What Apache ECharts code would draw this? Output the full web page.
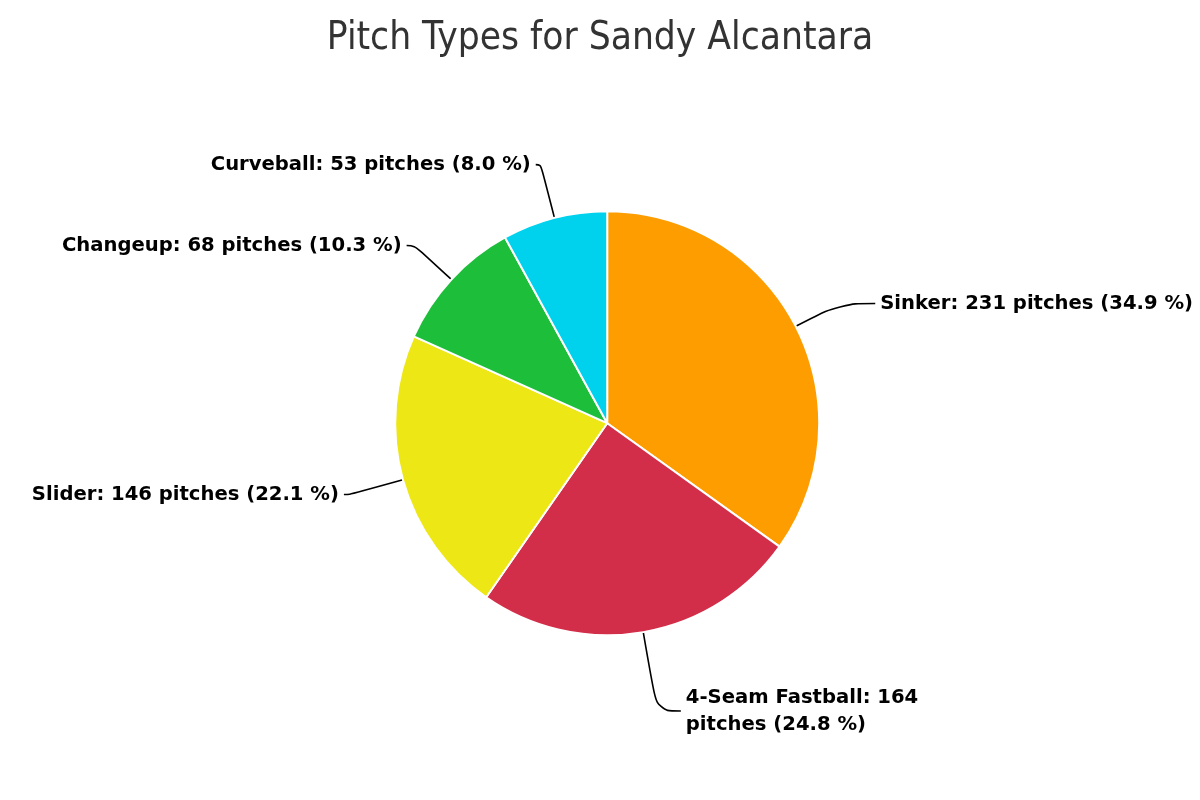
<!DOCTYPE html>
<html><head><meta charset="utf-8">
<script src="https://cdn.jsdelivr.net/npm/echarts@6/dist/echarts.min.js"></script>
<style>html,body{margin:0;padding:0;background:#fff}#c{width:1200px;height:800px}</style>
</head><body><div id="c"></div>
<script>
const titleText = 'Pitch Types for Sandy Alcantara';
const categories = ['Sinker', '4-Seam Fastball', 'Slider', 'Changeup', 'Curveball'];
const pitchCounts = [231, 164, 146, 68, 53];
const pitchPercents = ['34.9', '24.8', '22.1', '10.3', '8.0'];
const colors = ['#FE9D00', '#D22D49', '#EEE716', '#1DBE3A', '#00D1ED'];
// connector styling per slice: [radial length, horizontal length, label width]
const connectorStyle = [[50, 35, 400], [80, 24, 255], [55, 6, 400], [50, 8, 400], [55, 5, 400]];

const chart = echarts.init(document.getElementById('c'), null, {renderer: 'canvas'});
chart.setOption({
  animation: false,
  backgroundColor: '#fff',
  title: {
    text: titleText, left: 'center', top: 14,
    textStyle: {fontFamily: 'DejaVu Sans Condensed', fontSize: 38.5, fontWeight: 'normal', color: '#333'}
  },
  series: [{
    type: 'pie',
    center: ['50.6%', '52.9%'],
    radius: 212,
    startAngle: 90,
    clockwise: true,
    avoidLabelOverlap: false,
    itemStyle: {borderColor: '#fff', borderWidth: 2},
    label: {
      show: true,
      fontFamily: 'DejaVu Sans',
      fontWeight: 'bold',
      fontSize: 19.6,
      color: '#000',
      overflow: 'break',
      lineHeight: 27,
      formatter: p => p.name + ': ' + p.value + ' pitches (' + pitchPercents[p.dataIndex] + ' %)'
    },
    labelLine: {show: true, smooth: 0.4, lineStyle: {color: '#000', width: 1.6}},
    data: categories.map((c, i) => ({
      name: c, value: pitchCounts[i], itemStyle: {color: colors[i]},
      label: {width: connectorStyle[i][2]},
      labelLine: {length: connectorStyle[i][0], length2: connectorStyle[i][1]}
    }))
  }]
});
</script></body></html>
